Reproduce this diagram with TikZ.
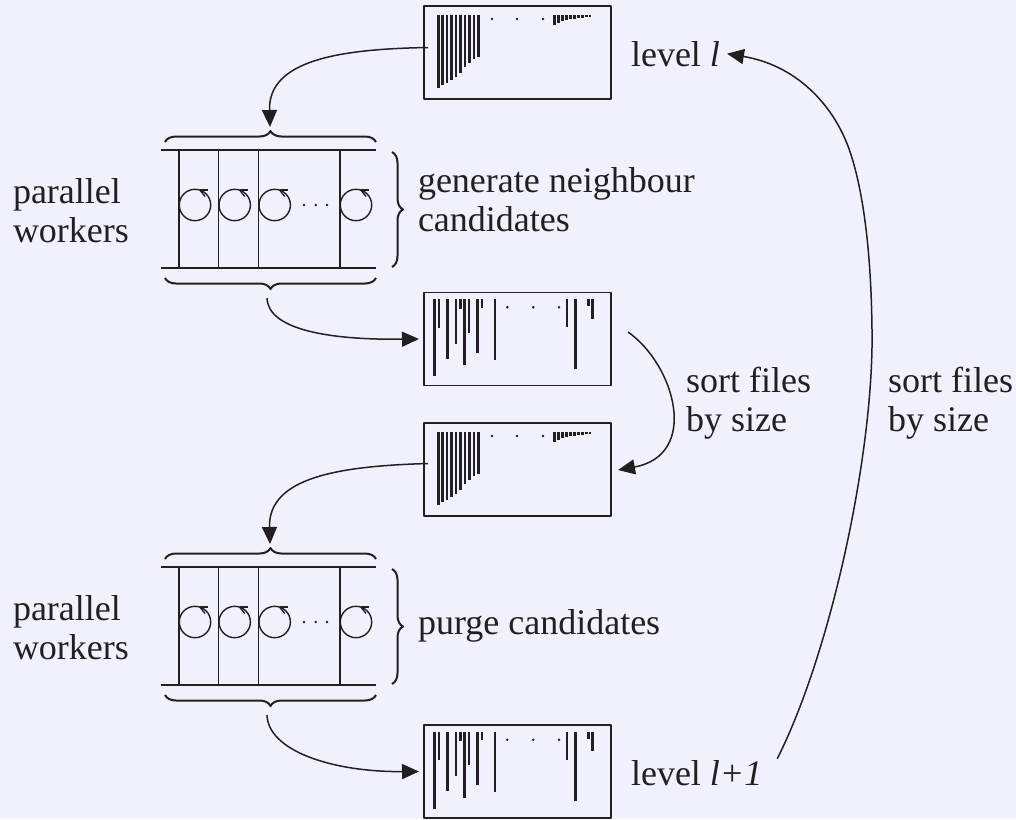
\documentclass[tikz,border=0pt]{standalone}
\usepackage{fontspec}
\setmainfont{Liberation Serif}
\usetikzlibrary{arrows.meta,decorations.pathreplacing}
\definecolor{bg}{RGB}{241,241,254}
\definecolor{ink}{RGB}{35,31,32}
\newcommand\sortedbars[1]{%
  \begin{scope}[shift={(#1.north west)}]
    \foreach \i/\b in {0/82.3,1/79,2/76.7,3/74,4/70.7,5/67.3,6/60.7,7/56.7,8/53.3,9/50.7}
      \draw[bar] (14.3+4.44*\i,9) -- (14.3+4.44*\i,\b);
    \foreach \x in {68,93,119} \fill[ink] (\x,13) circle (1.4);
    \foreach \x/\b in {130.3/19,134.3/17.3,138.3/14.7,142.3/14,146.3/13.3,150.3/12.7,154.3/12,158.3/11.7,162.3/11.3,166/11.3}
      \draw[bar] (\x,9) -- (\x,\b);
  \end{scope}}
\newcommand\unsortedbars[1]{%
  \begin{scope}[shift={(#1.north west)}]
    \foreach \x/\b in {10.3/83.7,15/35.3,23.3/66.3,32/51,36.7/16.3,40.7/72.7,45/40.3,53.7/60.3,58/15.3,71/67,143/34.7,151.7/76.3,164.3/13.7,168.7/26.3}
      \draw[bar] (\x,6.7) -- (\x,\b);
    \foreach \x in {83.3,109.3,135} \fill[ink] (\x,14.7) circle (1.4);
  \end{scope}}
\newcommand\workerblock[2]{%
  \begin{scope}[shift={(0,#1)}]
    \draw[frame] (161,150) -- (376,150);
    \draw[frame] (161,268) -- (376,268);
    \foreach \x in {179,218.7,258.7,340} \draw[frame] (\x,150) -- (\x,268);
    \foreach \c in {195,234.7,274.7,356} {
      \draw[frame] (\c,205) circle (15.7);
      \draw[frame] (\c+5,190.1) -- (\c+13,190.1);
      \draw[frame] (\c+5,190.1) -- (\c+10,196.5);
    }
    \foreach \x in {304,315.7,327} \fill[ink] (\x,205) circle (1.4);
    \draw[bracestyle] (165,142) -- (376,142);
    \draw[bracestyle] (376,278) -- (165,278);
    \draw[bracestyle] (392,152) -- (392,267);
    \coordinate (#2in) at (270,127);
    \coordinate (#2out) at (267,298);
  \end{scope}}
\begin{document}
\begin{tikzpicture}[x=1pt,y=-1pt,line join=round,
  every node/.style={font=\fontsize{36}{39}\selectfont, text=ink, inner sep=0pt, outer sep=0pt},
  filebox/.style={draw=ink, line width=1.9pt, minimum width=187pt, minimum height=93pt},
  bar/.style={line width=2.5pt, draw=ink},
  frame/.style={line width=1.4pt, draw=ink},
  conn/.style={line width=1.5pt, draw=ink, -{Triangle[length=17pt,width=15pt]}},
  bracestyle/.style={decorate, decoration={brace, amplitude=11pt}, line width=2pt, draw=ink}]
\path[use as bounding box, fill=bg] (0,0) rectangle (1016,819);

% file boxes
\node[filebox] (box1) at (517.5,52.5) {};
\node[filebox] (box2) at (517.5,339) {};
\node[filebox] (box3) at (517.5,469.5) {};
\node[filebox] (box4) at (517.5,771.5) {};
\sortedbars{box1}
\unsortedbars{box2}
\sortedbars{box3}
\unsortedbars{box4}

% worker blocks
\workerblock{0}{wa}
\workerblock{417}{wb}

% labels
\node[anchor=base west] (pw1) at (13,203) {\begin{tabular}[t]{@{}l@{}}parallel\\workers\end{tabular}};
\node[anchor=base west] (pw2) at (13,620) {\begin{tabular}[t]{@{}l@{}}parallel\\workers\end{tabular}};
\node[anchor=base west] (gen) at (418,192) {\begin{tabular}[t]{@{}l@{}}generate neighbour\\candidates\end{tabular}};
\node[anchor=base west] (purge) at (418,634) {purge candidates};
\node[anchor=base west] (sortA) at (686,392) {\begin{tabular}[t]{@{}l@{}}sort files\\by size\end{tabular}};
\node[anchor=base west] (sortB) at (888,392) {\begin{tabular}[t]{@{}l@{}}sort files\\by size\end{tabular}};
\node[anchor=base west] (lvl1) at (631,66) {level \textit{l}};
\node[anchor=base west] (lvl2) at (631,785) {level \textit{l+1}};

% connectors
\draw[conn] ([shift={(4,-5)}]box1.west) .. controls (340,49) and (268,60) .. (wain);
\draw[conn] (waout) .. controls (268,330) and (330,340) .. ([xshift=-5]box2.west);
\draw[conn] ([shift={(17,-7)}]box2.east) .. controls (675,365) and (700,455) .. ([shift={(7,0.5)}]box3.east);
\draw[conn] ([shift={(4,-6)}]box3.west) .. controls (340,466) and (268,477) .. (wbin);
\draw[conn] (wbout) .. controls (268,750) and (330,772) .. ([xshift=-5]box4.west);
\draw[conn] ([shift={(15,-14)}]lvl2.east) .. controls (832,650) and (874,450) .. (872,330)
   .. controls (871,240) and (861,187) .. (852,158)
   .. controls (838,110) and (800,66) .. ([xshift=7]lvl1.east);
\end{tikzpicture}
\end{document}
